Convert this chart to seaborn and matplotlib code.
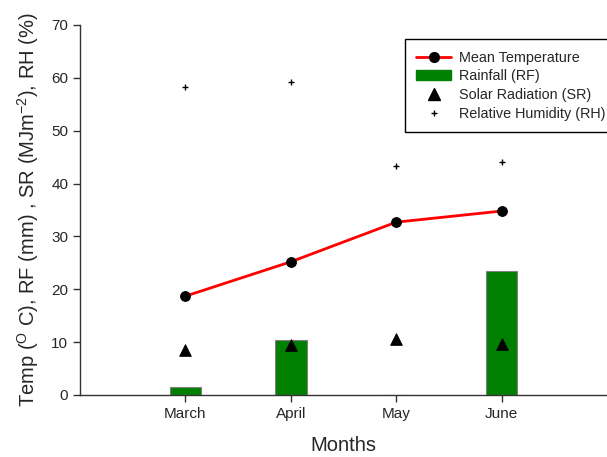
import matplotlib
matplotlib.use("Agg")
import matplotlib.pyplot as plt
import seaborn as sns
import pandas as pd
from matplotlib.lines import Line2D
from matplotlib.patches import Patch

months = ["March", "April", "May", "June"]
mean_temp = [18.7, 25.2, 32.7, 34.8]
rainfall = [1.5, 10.4, 0.0, 23.5]
solar_rad = [8.5, 9.5, 10.6, 9.6]
rel_hum = [58.2, 59.2, 43.3, 44.1]

sns.set_theme(style="ticks")
plt.rcParams["font.family"] = ["Liberation Sans", "DejaVu Sans"]
plt.rcParams["mathtext.fontset"] = "custom"
plt.rcParams["mathtext.rm"] = "Liberation Sans"
plt.rcParams["mathtext.it"] = "Liberation Sans:italic"

df = pd.DataFrame({"Month": months, "Temp": mean_temp, "RF": rainfall,
                   "SR": solar_rad, "RH": rel_hum})
df["pos"] = range(len(months))

fig = plt.figure(figsize=(6.07, 4.57), dpi=100)
ax = fig.add_axes([80 / 607, 1 - 395 / 457, 1 - 80 / 607, 370 / 457])

sns.barplot(data=df, x="Month", y="RF", order=months, color="#007f00",
            saturation=1, width=0.3, edgecolor="#808080", linewidth=0.8,
            ax=ax, zorder=2)
sns.lineplot(data=df, x="pos", y="Temp", color="#ff0000", linewidth=2,
             marker="o", markersize=7, markerfacecolor="black",
             markeredgecolor="black", ax=ax, zorder=3)
sns.scatterplot(data=df, x="pos", y="SR", marker="^", s=70, color="black",
                edgecolor="black", ax=ax, zorder=4)
sns.scatterplot(data=df, x="pos", y="RH", marker="+", s=18, color="black",
                linewidth=1, ax=ax, zorder=4)

ax.set_xlim(-1, 4)
ax.set_ylim(0, 70)
ax.set_yticks(range(0, 71, 10))
ax.set_xticks(range(len(months)))
ax.set_xticklabels(months)
ax.tick_params(axis="both", labelsize=11, length=5, width=1, color="#333333",
               direction="out")
for s in ["top", "right"]:
    ax.spines[s].set_visible(False)
for s in ["left", "bottom"]:
    ax.spines[s].set_color("#333333")
    ax.spines[s].set_linewidth(1)

ax.set_xlabel("Months", fontsize=14.5, labelpad=11)
ax.set_ylabel(r"Temp ($^{\mathrm{O}}$ C), RF (mm) , SR (MJm$^{\mathrm{-2}}$), RH (%)",
              fontsize=14.5, labelpad=7)

handles = [
    Line2D([], [], color="#ff0000", linewidth=2, marker="o", markersize=7,
           markerfacecolor="black", markeredgecolor="black"),
    Patch(facecolor="#007f00", edgecolor="#007f00"),
    Line2D([], [], linestyle="none", marker="^", markersize=8, color="black"),
    Line2D([], [], linestyle="none", marker="+", markersize=4, color="black",
           markeredgewidth=1),
]
labels = ["Mean Temperature", "Rainfall (RF)", "Solar Radiation (SR)",
          "Relative Humidity (RH)"]
leg = ax.legend(handles, labels, loc="upper right",
                bbox_to_anchor=(1.019, 0.962), borderaxespad=0, fontsize=10.4,
                frameon=True, fancybox=False, edgecolor="black",
                framealpha=1, handlelength=2.4, handletextpad=0.55,
                labelspacing=0.33, borderpad=0.8)
leg.get_frame().set_linewidth(1)

fig.savefig("out.png", dpi=100)
